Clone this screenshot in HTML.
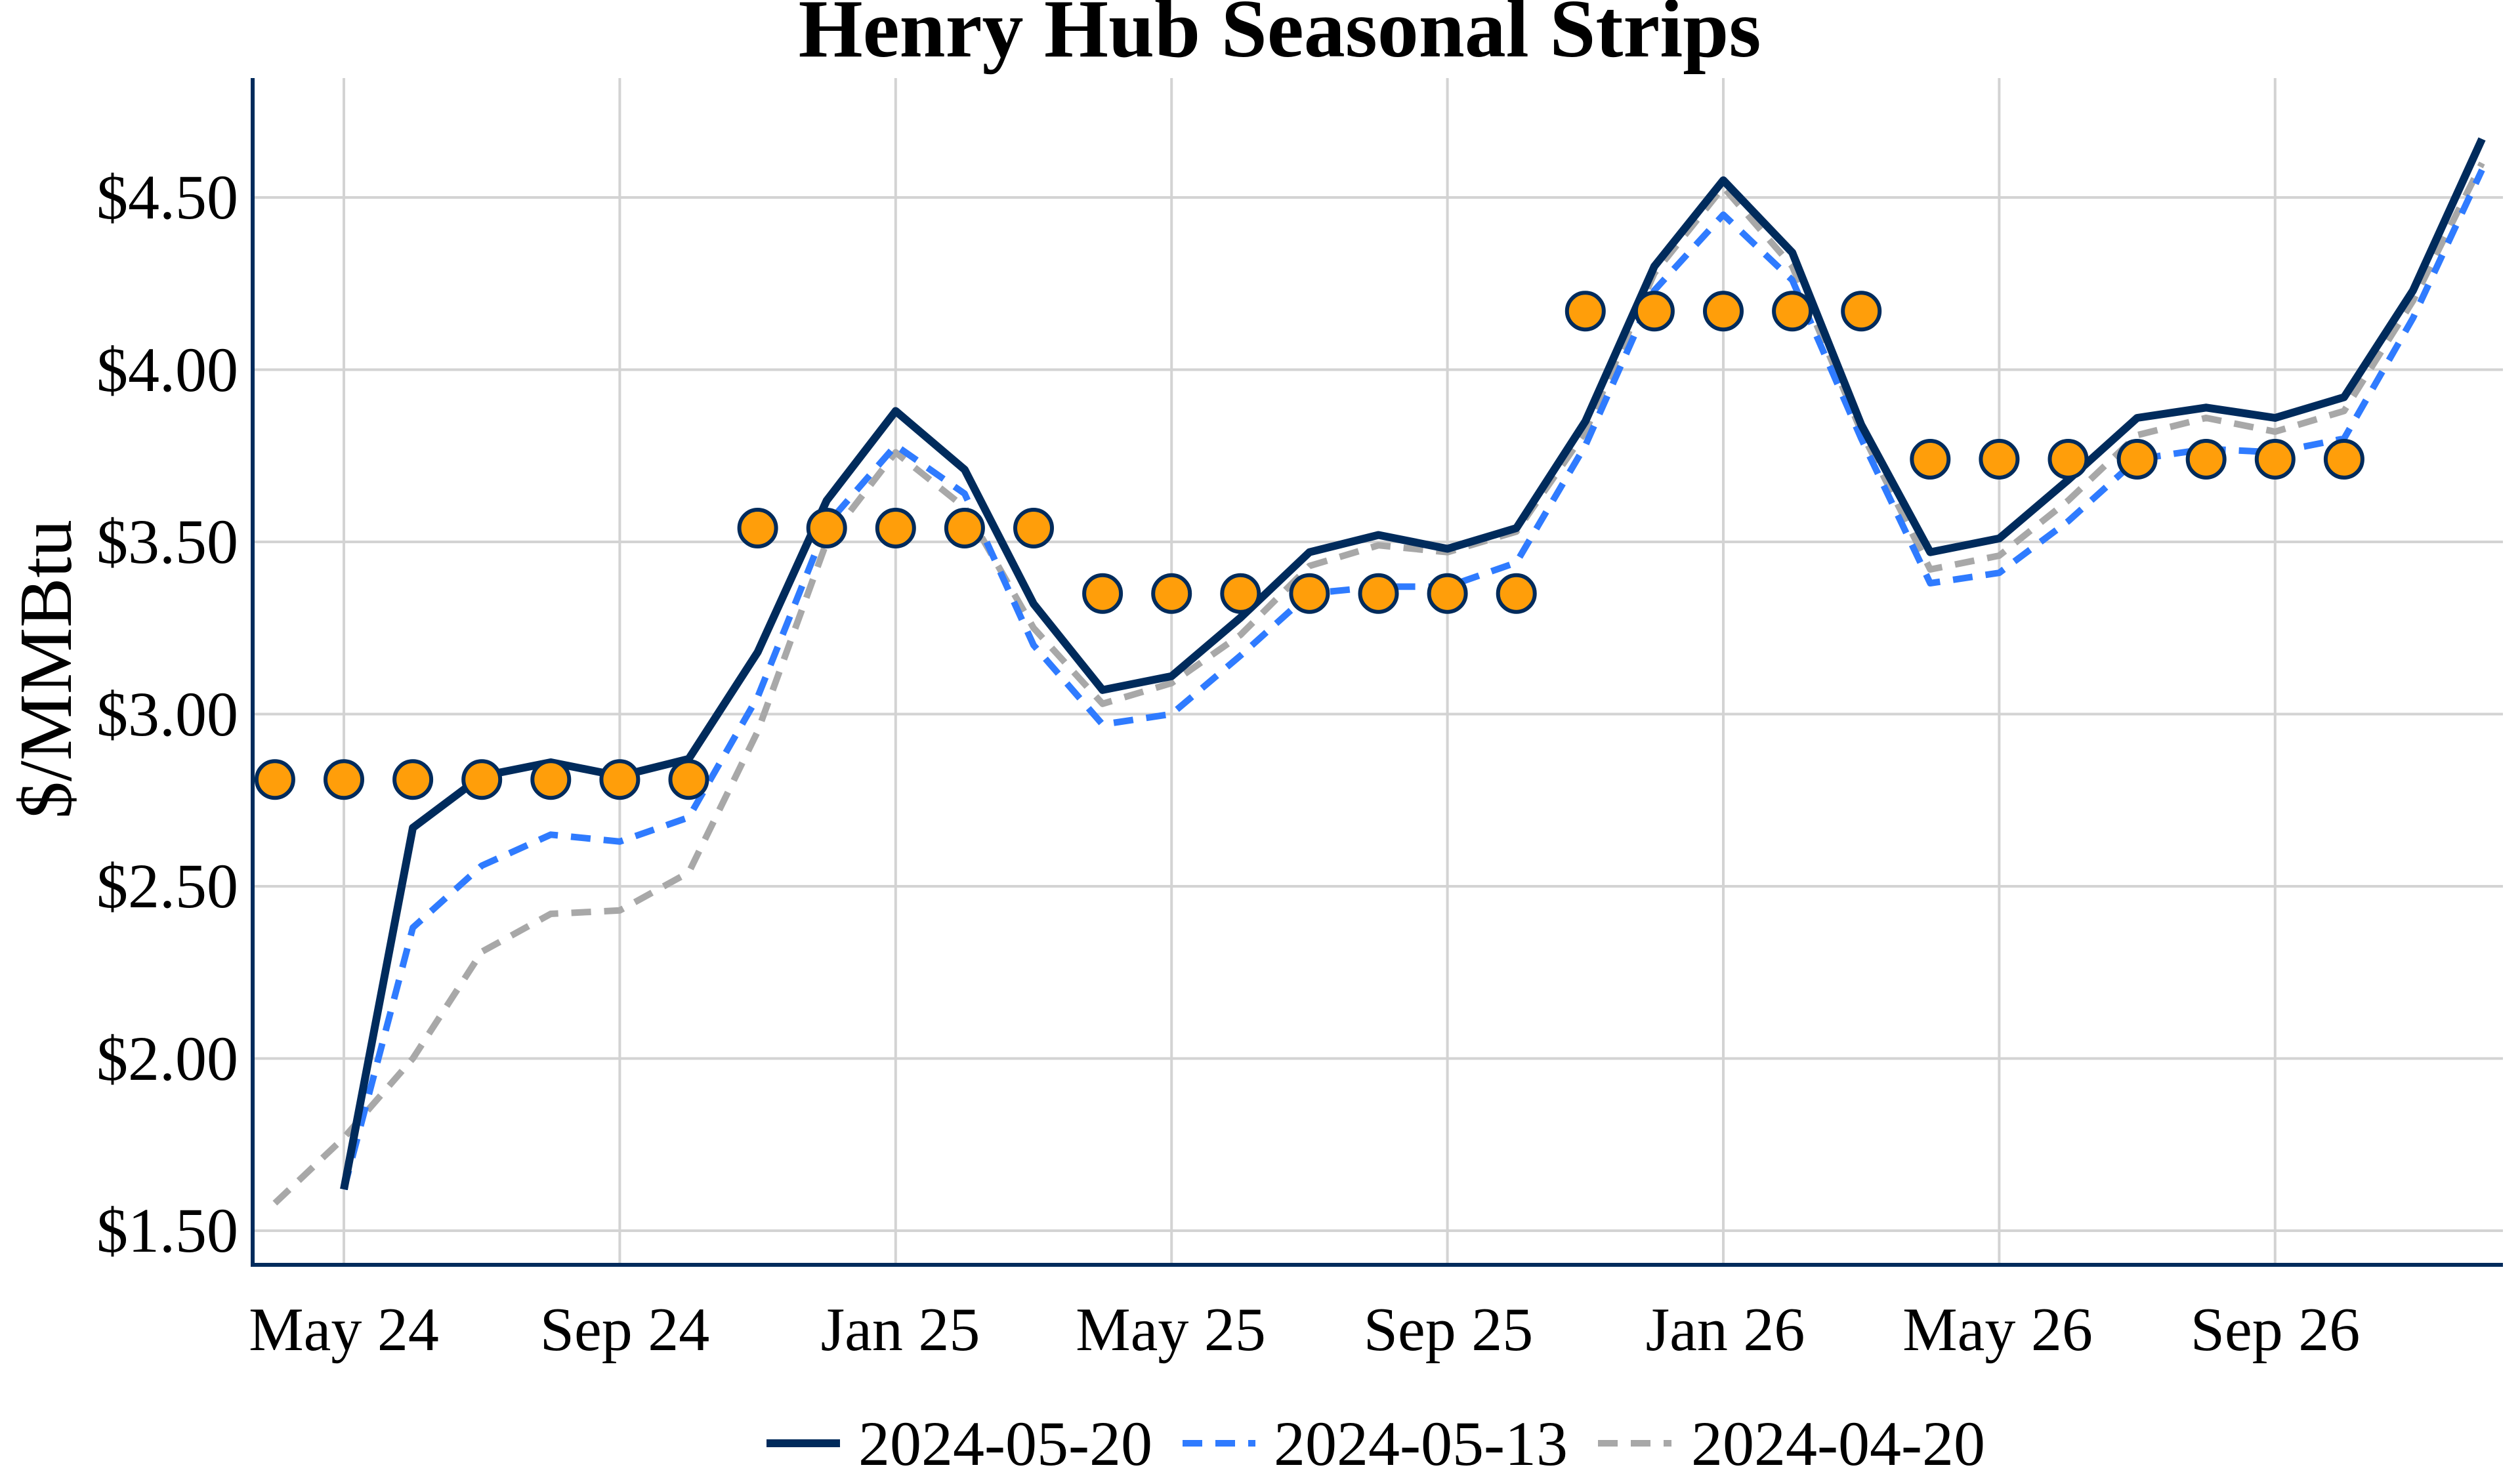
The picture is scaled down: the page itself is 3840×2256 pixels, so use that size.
<!DOCTYPE html>
<html><head><meta charset="utf-8"><style>
html,body{margin:0;padding:0;background:#fff;}
svg{display:block;}
text{font-family:"Liberation Serif",serif;fill:#000;}
</style></head><body>
<svg id="s" width="3840" height="2256" viewBox="0 0 3840 2256" xmlns="http://www.w3.org/2000/svg">
<rect width="3840" height="2256" fill="#fff"/>
<g id="grid" stroke="#d3d3d3" stroke-width="4"></g>
<g id="series"></g>
<line x1="385" y1="119" x2="385" y2="1930" stroke="#002b5c" stroke-width="6"/>
<line x1="382" y1="1928" x2="3814" y2="1928" stroke="#002b5c" stroke-width="6"/>
<text x="1950" y="86" text-anchor="middle" font-size="126" font-weight="bold">Henry Hub Seasonal Strips</text>
<g font-size="96" text-anchor="end">
<text x="363" y="333">$4.50</text>
<text x="363" y="596">$4.00</text>
<text x="363" y="858">$3.50</text>
<text x="363" y="1121">$3.00</text>
<text x="363" y="1383">$2.50</text>
<text x="363" y="1646">$2.00</text>
<text x="363" y="1908">$1.50</text>
</g>
<text transform="translate(108,1020) rotate(-90)" font-size="114" text-anchor="middle">$/MMBtu</text>
<g font-size="94" text-anchor="middle">
<text x="524" y="2058">May 24</text>
<text x="952" y="2058">Sep 24</text>
<text x="1372" y="2058">Jan 25</text>
<text x="1784" y="2058">May 25</text>
<text x="2207" y="2058">Sep 25</text>
<text x="2629" y="2058">Jan 26</text>
<text x="3044" y="2058">May 26</text>
<text x="3467" y="2058">Sep 26</text>
</g>
<line x1="1168" y1="2200" x2="1280" y2="2200" stroke="#002b5c" stroke-width="12"/>
<line x1="1802" y1="2200" x2="1913" y2="2200" stroke="#2f7bff" stroke-width="10" stroke-dasharray="30 20"/>
<line x1="2435" y1="2200" x2="2547" y2="2200" stroke="#a8a8a8" stroke-width="10" stroke-dasharray="30 20"/>
<g font-size="96">
<text x="1308" y="2233">2024-05-20</text>
<text x="1941" y="2233">2024-05-13</text>
<text x="2577" y="2233">2024-04-20</text>
</g>
</svg>
<script>
var NS="http://www.w3.org/2000/svg";
function X(i){return 524+105.1*(i-1);}
function Y(v){return 301+(4.5-v)*525;}
var g=document.getElementById('grid');
[4.5,4,3.5,3,2.5,2,1.5].forEach(function(v){var l=document.createElementNS(NS,'line');l.setAttribute('x1',385);l.setAttribute('x2',3814);l.setAttribute('y1',Y(v));l.setAttribute('y2',Y(v));g.appendChild(l);});
[1,5,9,13,17,21,25,29].forEach(function(i){var l=document.createElementNS(NS,'line');l.setAttribute('x1',X(i));l.setAttribute('x2',X(i));l.setAttribute('y1',119);l.setAttribute('y2',1928);g.appendChild(l);});
var dark=[null,1.62,2.67,2.82,2.86,2.82,2.87,3.18,3.62,3.88,3.71,3.32,3.07,3.11,3.28,3.47,3.52,3.48,3.54,3.85,4.30,4.55,4.34,3.84,3.47,3.51,3.68,3.86,3.89,3.86,3.92,4.23,4.67];
var blue=[null,1.62,2.38,2.56,2.65,2.63,2.70,3.05,3.55,3.78,3.64,3.20,2.97,3.00,3.17,3.35,3.37,3.37,3.44,3.78,4.23,4.45,4.26,3.80,3.38,3.41,3.56,3.74,3.77,3.76,3.80,4.15,4.58];
var gray=[1.58,1.77,2.00,2.31,2.42,2.43,2.54,2.95,3.50,3.76,3.60,3.25,3.03,3.09,3.23,3.43,3.49,3.47,3.53,3.82,4.28,4.53,4.30,3.82,3.42,3.46,3.62,3.81,3.86,3.82,3.88,4.20,4.60];
var s=document.getElementById('series');
function pl(d,c,w,dash){var p=[];d.forEach(function(v,i){if(v!==null)p.push(X(i).toFixed(1)+','+Y(v).toFixed(1));});var e=document.createElementNS(NS,'polyline');e.setAttribute('points',p.join(' '));e.setAttribute('fill','none');e.setAttribute('stroke',c);e.setAttribute('stroke-width',w);e.setAttribute('stroke-linejoin','round');if(dash)e.setAttribute('stroke-dasharray',dash);s.appendChild(e);}
pl(gray,'#a8a8a8',10,'30 20');
pl(blue,'#2f7bff',10,'30 20');
pl(dark,'#002b5c',12);
var dots=[];
for(var i=0;i<=6;i++)dots.push([i,2.81]);
for(i=7;i<=11;i++)dots.push([i,3.54]);
for(i=12;i<=18;i++)dots.push([i,3.35]);
for(i=19;i<=23;i++)dots.push([i,4.17]);
for(i=24;i<=30;i++)dots.push([i,3.74]);
dots.forEach(function(d){var c=document.createElementNS(NS,'circle');c.setAttribute('cx',X(d[0]));c.setAttribute('cy',Y(d[1]));c.setAttribute('r',28);c.setAttribute('fill','#ff9e0a');c.setAttribute('stroke','#002b5c');c.setAttribute('stroke-width',6);s.appendChild(c);});
</script>
</body></html>
